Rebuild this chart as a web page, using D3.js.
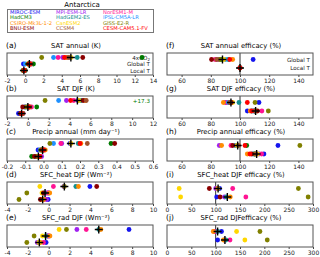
<!DOCTYPE html>
<html>
<head>
<meta charset="utf-8">
<script src="https://cdn.jsdelivr.net/npm/d3@7"></script>
<style>
  body { margin: 0; background: #fff; }
  svg { font-family: "DejaVu Sans", sans-serif; }
</style>
</head>
<body>
<svg id="chart" width="320" height="257"></svg>
<script>
// models, in legend order
var models = ["MIROC-ESM", "MPI-ESM-LR", "NorESM1-M",
              "HadCM3", "HadGEM2-ES", "IPSL-CM5A-LR",
              "CSIRO-Mk3L-1-2", "CanESM2", "GISS-E2-R",
              "BNU-ESM", "CCSM4", "CESM-CAM5.1-FV"];
var colors = ["#1515ee", "#a020f0", "#ff1493",
              "#007a00", "#139090", "#1e90ff",
              "#ff8c00", "#ffd700", "#808000",
              "#8b0000", "#a0522d", "#ff0000"];

var leftRows = ["4xCO2", "Global T", "Local T"];
var rightRows = ["Global T", "Local T"];

// (a) SAT annual (K): rows 4xCO2, Global T, Local T
var satAnnual = [
  [4.9, 4.1, 3.6, 12.8, 5.7, 3.1, 4.5, 5.0, 1.8, 6.3, 4.7, 4.3],
  [-0.2, 0.5, 0.7, 0.9, 0.4, 0.0, 0.5, 0.3, 0.3, 0.4, 0.6, 0.5],
  [-0.2, -0.1, -0.1, 0.0, -0.15, -0.2, -0.1, -0.2, -0.25, -0.15, -0.1, -0.1]];
var satAnnualMean = [5.0, 0.45, -0.15];

// (b) SAT DJF (K)
var satDjf = [
  [4.8, 3.7, 4.4, 17.3, 5.1, 2.95, 5.5, 4.9, 1.65, 5.3, 5.6, 4.1],
  [-0.3, 0.1, 0.35, 0.85, 0.0, -0.1, 0.1, 0.0, -0.2, -0.5, 0.2, 0.1],
  [-0.9, -0.6, -0.45, -0.5, -0.6, -0.7, -0.55, -0.6, -0.65, -0.7, -0.5, -0.6]];
var satDjfMean = [4.75, 0.0, -0.6];

// (c) Precip annual (mm day-1)
var precipAnnual = [
  [0.145, 0.10, 0.095, 0.37, 0.19, 0.055, 0.205, 0.15, 0.035, 0.39, 0.24, 0.20],
  [-0.03, -0.01, 0.005, -0.01, 0.0, -0.02, 0.01, -0.01, -0.015, -0.005, 0.0, 0.0],
  [-0.035, -0.01, -0.02, -0.065, -0.03, -0.03, -0.02, -0.03, -0.04, -0.05, -0.025, -0.02]];
var precipAnnualMean = [0.15, -0.005, -0.028];

// (d) SFC_heat DJF (Wm-2)
var sfcHeatDjf = [
  [3.95, 1.45, 0.45, null, 2.6, null, 2.85, -0.85, 1.5, 4.6, null, null],
  [0.0, -0.2, -0.1, null, -0.4, null, 0.1, -0.65, -2.1, -0.5, null, null],
  [-0.05, -0.2, -0.45, null, -0.6, null, -0.5, -0.7, -2.85, -0.8, null, null]];
var sfcHeatDjfMean = [1.5, -0.35, -0.58];

// (e) SFC_rad DJF (Wm-2)
var sfcRadDjf = [
  [7.7, 2.7, 3.6, null, 4.8, null, 5.0, 1.0, 1.7, null, null, null],
  [-0.1, 0.05, -0.05, null, -0.3, null, 0.12, -0.6, -1.4, null, null, null],
  [-0.25, -1.1, -0.5, null, -0.9, null, -0.8, -0.95, -2.1, null, null, null]];
var sfcRadDjfMean = [4.8, -0.3, -0.9];

// (f)-(j) efficacies (%): rows Global T, Local T
var satAnnualEff = [
  [109, 85, 83, 87, 92, 90, 95, 89, 86, 80.5, 84, 93],
  [100, 100, 100, 100, 100, 100, 100, 100, 100, 100, 100, 100]];
var satAnnualEffMean = [88, 100];

var satDjfEff = [
  [113, 90, 91, 93, 99.3, 92, 88.6, 95, 110.3, 94, 93, 105],
  [105, 110, 115, 110, 108, 109, 107, 111, 119.4, 112, 110, 108]];
var satDjfEffMean = [93.8, 110.7];

var precipAnnualEff = [
  [126, 85.8, 93.8, 104.6, 97, 97.3, 87.4, 98, 141, 95, 99, 103.4],
  [116.4, 113, 114.8, 110, 111, 109, 105, 112, 110, 108, 111, 106.8]];
var precipAnnualEffMean = [98.4, 111.4];

var sfcHeatDjfEff = [
  [108, 100, 135, null, 105, null, 104, 25, 270, 87, null, null],
  [102, 118, 162, null, 122, null, 130, 28, 290, 109, null, null]];
var sfcHeatDjfEffMean = [105, 124];

var sfcRadDjfEff = [
  [112, 100, 97, null, 104, null, 95, 143, 191, null, null, null],
  [104, 118, 129.5, null, 121, null, 116, 160, 206, null, null, null]];
var sfcRadDjfEffMean = [104, 119];

var svg = d3.select("#chart");

// title + legend
svg.append("text")
  .attr("x", 82).attr("y", 7)
  .attr("text-anchor", "middle")
  .attr("font-size", 7)
  .text("Antarctica");

svg.append("rect")
  .attr("x", 7.5).attr("y", 9.5)
  .attr("width", 146).attr("height", 23)
  .attr("fill", "#fff")
  .attr("stroke", "#777");

svg.selectAll(".leg")
  .data(models)
  .enter().append("text")
  .attr("class", "leg")
  .attr("x", function(d, i) { return [10, 56, 103][i % 3]; })
  .attr("y", function(d, i) { return 14 + Math.floor(i / 3) * 5.4; })
  .attr("font-size", 5.2)
  .attr("fill", function(d, i) { return colors[i]; })
  .text(function(d) { return d; });

var left = [7, 153], right = [167, 313];
var tops = [53, 96, 139, 182, 225];
var boxH = 22;

function hy(f) { return function(v) { return f(v).replace("\u2212", "-"); }; }

var panels = [
  {tag: "(a)", title: "SAT annual (K)", data: satAnnual, mean: satAnnualMean, dom: [-2, 14], ticks: d3.range(-2, 15, 2), col: 0, row: 0, fmt: d3.format("d"), labels: true},
  {tag: "(b)", title: "SAT DJF (K)", data: satDjf, mean: satDjfMean, dom: [-2, 12], ticks: d3.range(-2, 13, 2), col: 0, row: 1, fmt: d3.format("d")},
  {tag: "(c)", title: "Precip annual (mm  day\u207B\u00B9)", data: precipAnnual, mean: precipAnnualMean, dom: [-0.2, 0.6], ticks: d3.range(-2, 7).map(function(v) { return v / 10; }), col: 0, row: 2, fmt: d3.format(".1f")},
  {tag: "(d)", title: "SFC_heat DJF (Wm\u207B\u00B2)", data: sfcHeatDjf, mean: sfcHeatDjfMean, dom: [-4, 10], ticks: d3.range(-4, 11, 2), col: 0, row: 3, fmt: d3.format("d")},
  {tag: "(e)", title: "SFC_rad DJF (Wm\u207B\u00B2)", data: sfcRadDjf, mean: sfcRadDjfMean, dom: [-4, 10], ticks: d3.range(-4, 11, 2), col: 0, row: 4, fmt: d3.format("d")},
  {tag: "(f)", title: "SAT annual efficacy (%)", data: satAnnualEff, mean: satAnnualEffMean, dom: [50, 150], ticks: d3.range(60, 141, 20), col: 1, row: 0, fmt: d3.format("d"), labels: true},
  {tag: "(g)", title: "SAT DJF  efficacy (%)", data: satDjfEff, mean: satDjfEffMean, dom: [50, 150], ticks: d3.range(60, 141, 20), col: 1, row: 1, fmt: d3.format("d")},
  {tag: "(h)", title: "Precip annual efficacy  (%)", data: precipAnnualEff, mean: precipAnnualEffMean, dom: [50, 150], ticks: d3.range(60, 141, 20), col: 1, row: 2, fmt: d3.format("d")},
  {tag: "(i)", title: "SFC_heat DJF efficacy (%)", data: sfcHeatDjfEff, mean: sfcHeatDjfEffMean, dom: [0, 300], ticks: d3.range(0, 301, 50), col: 1, row: 3, fmt: d3.format("d")},
  {tag: "(j)", title: "SFC_rad DJFefficacy (%)", data: sfcRadDjfEff, mean: sfcRadDjfEffMean, dom: [0, 300], ticks: d3.range(0, 301, 50), col: 1, row: 4, fmt: d3.format("d")}
];

panels.forEach(function(p) {
  var xr = p.col == 0 ? left : right;
  var top = tops[p.row];
  var x = d3.scaleLinear().domain(p.dom).range(xr);
  var rowNames = p.col == 0 ? leftRows : rightRows;
  var y = d3.scalePoint().domain(rowNames).range(p.col == 0 ? [top + 4.5, top + 17.5] : [top + 6.5, top + 15]);

  // panel tag + title
  svg.append("text")
    .attr("x", xr[0] - 1).attr("y", top - 5.5)
    .attr("font-size", 7.5)
    .text(p.tag);
  svg.append("text")
    .attr("x", p.col == 0 ? 76 : 241).attr("y", top - 5.5)
    .attr("text-anchor", "middle")
    .attr("font-size", 6.8)
    .text(p.title);

  var g = svg.append("g");

  // x axis
  var ax = g.append("g")
    .attr("transform", "translate(0," + (top + boxH) + ")")
    .call(d3.axisBottom(x).tickValues(p.ticks).tickSize(2).tickPadding(1.5).tickFormat(hy(p.fmt)));
  ax.select(".domain").remove();
  ax.selectAll("text").attr("font-size", 6).attr("font-family", "DejaVu Sans").attr("fill", "#222");
  ax.selectAll("line").attr("stroke", "#444");

  // reference line at 100 %
  if (p.col == 1) {
    g.append("line")
      .attr("x1", x(100)).attr("x2", x(100))
      .attr("y1", top).attr("y2", top + boxH)
      .attr("stroke", "#333").attr("stroke-width", 1);
  }

  // row labels
  if (p.labels) {
    g.selectAll(".rowlab")
      .data(rowNames)
      .enter().append("text")
      .attr("x", xr[1] - 3)
      .attr("y", function(d) { return y(d) + 2; })
      .attr("text-anchor", "end")
      .attr("font-size", 5.6)
      .attr("fill", "#222")
      .text(function(d) { return d == "4xCO2" ? "" : d; });
    if (p.col == 0) {
      g.append("text")
        .attr("x", xr[1] - 3).attr("y", y("4xCO2") + 2)
        .attr("text-anchor", "end")
        .attr("font-size", 5.6)
        .attr("fill", "#222")
        .html("4xCO<tspan font-size='4' dy='1'>2</tspan>");
    }
  }

  // dots per row
  p.data.forEach(function(vals, ri) {
    var rn = rowNames[ri];
    vals.forEach(function(v, mi) {
      if (v == null) return;
      if (v > p.dom[1]) {
        g.append("text")
          .attr("x", xr[1] - 3).attr("y", y(rn) + 2)
          .attr("text-anchor", "end")
          .attr("font-size", 5.6)
          .attr("fill", colors[mi])
          .text("+" + v);
        return;
      }
      g.append("circle")
        .attr("cx", x(v))
        .attr("cy", y(rn))
        .attr("r", 2.4)
        .attr("fill", colors[mi]);
    });
    // multi-model mean cross
    g.append("path")
      .attr("d", "M" + (x(p.mean[ri]) - 4) + "," + y(rn) + "h8M" + x(p.mean[ri]) + "," + (y(rn) - 4) + "v8")
      .attr("stroke", "#000")
      .attr("stroke-width", 1.4);
  });

  // frame
  g.append("rect")
    .attr("x", xr[0]).attr("y", top)
    .attr("width", xr[1] - xr[0]).attr("height", boxH)
    .attr("fill", "none")
    .attr("stroke", "#555")
    .attr("stroke-width", 1);
});
</script>
</body>
</html>
